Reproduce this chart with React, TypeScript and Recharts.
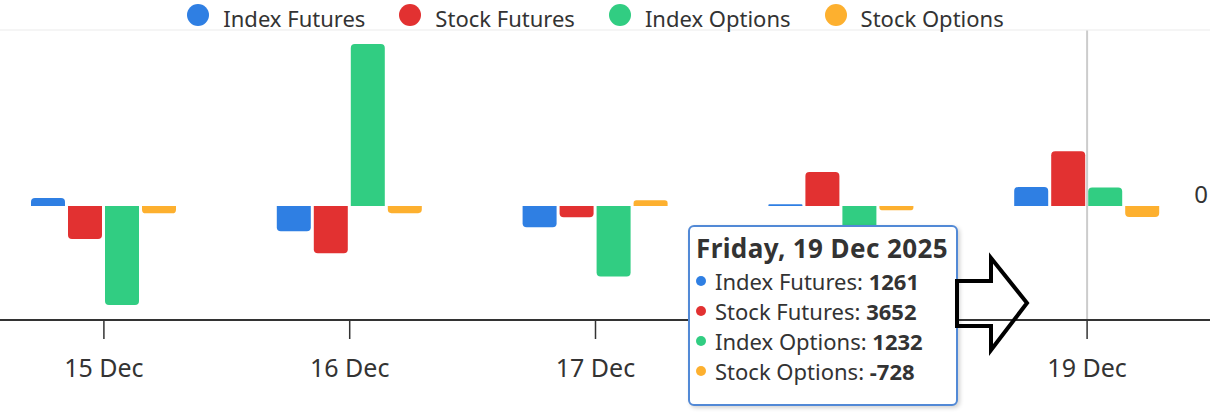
import React from "react";
import {
  BarChart,
  Bar,
  XAxis,
  YAxis,
  CartesianGrid,
  Tooltip,
  Legend,
  ReferenceLine,
} from "recharts";

const categories = ["15 Dec", "16 Dec", "17 Dec", "18 Dec", "19 Dec"];
const fullDates = [
  "Monday, 15 Dec 2025",
  "Tuesday, 16 Dec 2025",
  "Wednesday, 17 Dec 2025",
  "Thursday, 18 Dec 2025",
  "Friday, 19 Dec 2025",
];
const indexFutures = [540, -1680, -1420, 120, 1261];
const stockFutures = [-2200, -3150, -750, 2270, 3652];
const indexOptions = [-6600, 10800, -4700, -2500, 1232];
const stockOptions = [-490, -480, 380, -280, -728];
const yTicks = [0, 10000];

const FONT = '"Noto Sans", "Open Sans", sans-serif';
const TEXT = "#333333";

const SERIES = [
  { key: "indexFutures", name: "Index Futures", color: "#2f7fe3" },
  { key: "stockFutures", name: "Stock Futures", color: "#e23131" },
  { key: "indexOptions", name: "Index Options", color: "#31cd82" },
  { key: "stockOptions", name: "Stock Options", color: "#fdb02f" },
];

const chartData = categories.map((c, i) => ({
  date: c,
  full: fullDates[i],
  indexFutures: indexFutures[i],
  stockFutures: stockFutures[i],
  indexOptions: indexOptions[i],
  stockOptions: stockOptions[i],
}));

function LegendRow() {
  return (
    <div
      style={{
        height: 30,
        display: "flex",
        justifyContent: "center",
        alignItems: "center",
        fontFamily: FONT,
        fontSize: 22,
        color: TEXT,
      }}
    >
      {SERIES.map((s, i) => (
        <div
          key={s.key}
          style={{
            display: "flex",
            alignItems: "center",
            marginRight: i < SERIES.length - 1 ? 34 : 0,
          }}
        >
          <span
            style={{
              width: 22,
              height: 22,
              borderRadius: "50%",
              background: s.color,
              display: "inline-block",
              marginRight: 14,
            }}
          />
          <span style={{ lineHeight: "30px", paddingTop: 5 }}>{s.name}</span>
        </div>
      ))}
    </div>
  );
}

function CrossLine(props: any) {
  const { x, y, width, height } = props;
  if (x == null) return null;
  const cx = x + width / 2;
  return (
    <line x1={cx} x2={cx} y1={y} y2={y + height} stroke="#cccccc" strokeWidth={2} />
  );
}

// the "0" axis label sits at the right end, just above the zero line
function ZeroLabel(props: any) {
  const vb = props.viewBox;
  if (!vb) return null;
  return (
    <g>
      <text
        x={vb.x + vb.width - 2}
        y={vb.y - 3}
        textAnchor="end"
        fontSize={24}
        fontFamily={FONT}
        fill={TEXT}
        style={{ fontSize: "24px", fontFamily: FONT }}
      >
        0
      </text>
    </g>
  );
}

function TipBox({ payload }: any) {
  if (!payload?.length) return null;
  const p = payload[0].payload;
  return (
    <div
      style={{
        width: 254,
        height: 159,
        background: "#ffffff",
        border: "2px solid #5289d6",
        borderRadius: 6,
        padding: "6px 6px 12px 6px",
        boxShadow: "2px 2px 4px rgba(0,0,0,0.18)",
        fontFamily: FONT,
        color: TEXT,
      }}
    >
      <div
        style={{
          fontWeight: 700,
          fontSize: 26,
          letterSpacing: 0.4,
          lineHeight: "30px",
          whiteSpace: "nowrap",
        }}
      >
        {p.full}
      </div>
      <div style={{ marginTop: 3 }}>
        {payload.map((e: any) => (
          <div
            key={e.dataKey}
            style={{
              display: "flex",
              alignItems: "center",
              fontSize: 22,
              lineHeight: "30px",
              whiteSpace: "nowrap",
            }}
          >
            <span
              style={{
                width: 10,
                height: 10,
                borderRadius: "50%",
                background: e.color,
                display: "inline-block",
                marginRight: 9,
              }}
            />
            <span>{e.name}:&nbsp;</span>
            <span style={{ fontWeight: 700 }}>{e.value}</span>
          </div>
        ))}
      </div>
    </div>
  );
}

export default function App() {
  return (
    <div
      style={{
        position: "fixed",
        left: 0,
        top: 0,
        width: 1226,
        height: 415,
        overflow: "hidden",
        background: "#ffffff",
      }}
    >
      <div style={{ position: "absolute", left: -19, top: 0 }}>
        <BarChart
          width={1245}
          height={415}
          data={chartData}
          margin={{ top: 0, right: 16, bottom: 35, left: 0 }}
          barSize={34}
          barGap={3}
        >
          <CartesianGrid vertical={false} stroke="#ebebeb" strokeWidth={1} />
          <Legend verticalAlign="top" align="center" content={() => <LegendRow />} />
          <XAxis
            dataKey="date"
            height={60}
            axisLine={{ stroke: TEXT, strokeWidth: 2 }}
            tickLine={{ stroke: TEXT, strokeWidth: 1.5 }}
            tickSize={19}
            tickMargin={20}
            tick={{ fontFamily: FONT, fontSize: 25, fill: TEXT }}
          />
          <YAxis
            orientation="right"
            width={0}
            domain={[-7600, 11733]}
            ticks={yTicks}
            axisLine={false}
            tickLine={false}
            tick={false}
          />
          <ReferenceLine y={0} stroke="none" label={<ZeroLabel />} />
          <Tooltip
            defaultIndex={4}
            active
            position={{ x: 707, y: 225 }}
            cursor={<CrossLine />}
            content={<TipBox />}
            isAnimationActive={false}
            wrapperStyle={{ outline: "none", zIndex: 5 }}
          />
          {SERIES.map((s) => (
            <Bar
              key={s.key}
              dataKey={s.key}
              name={s.name}
              fill={s.color}
              radius={[4, 4, 0, 0]}
              isAnimationActive={false}
            />
          ))}
        </BarChart>
      </div>
      <svg
        width={1226}
        height={415}
        style={{ position: "absolute", left: 0, top: 0, pointerEvents: "none", zIndex: 6 }}
      >
        <polygon
          points="957,281 991,281 991,258 1027,303 991,350 991,326 957,326"
          fill="none"
          stroke="#000000"
          strokeWidth={4}
        />
      </svg>
    </div>
  );
}
